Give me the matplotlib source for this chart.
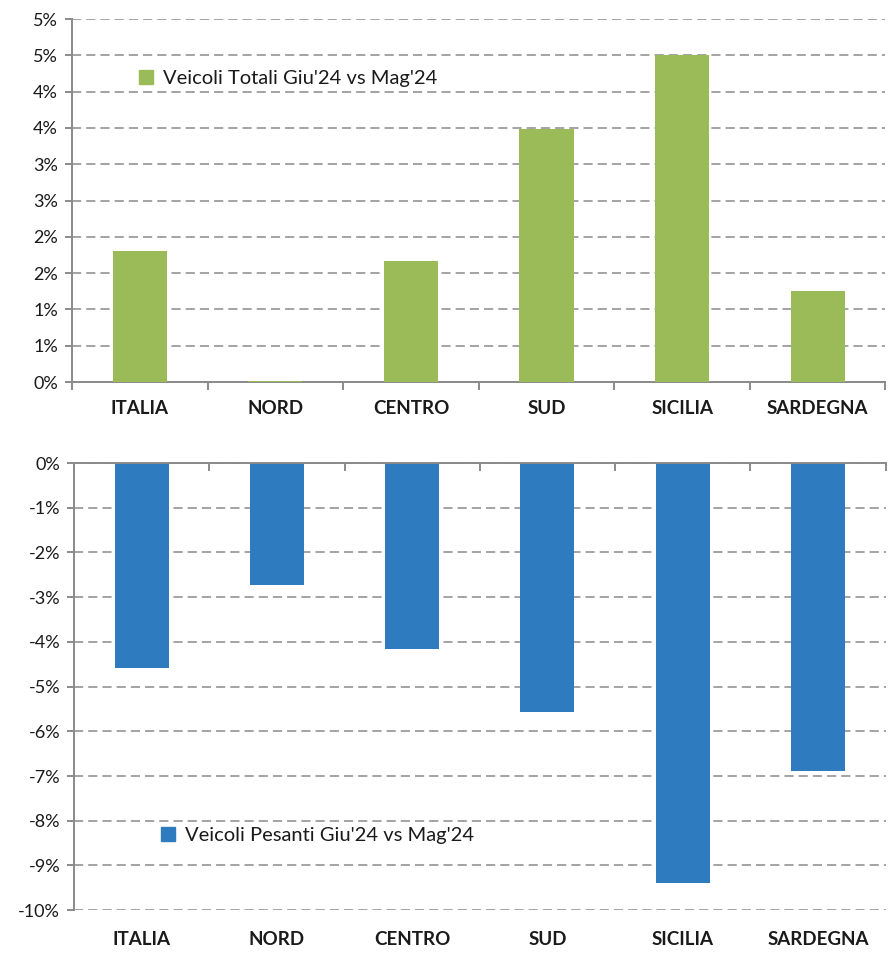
import math
import matplotlib
matplotlib.use("Agg")
import matplotlib.pyplot as plt
from matplotlib.ticker import FuncFormatter, MultipleLocator, FixedLocator
from matplotlib.patches import Patch

plt.rcParams['font.family'] = ['Lato', 'DejaVu Sans']

# dati
regioni = ["ITALIA", "NORD", "CENTRO", "SUD", "SICILIA", "SARDEGNA"]
totali = [1.81, 0.02, 1.67, 3.49, 4.51, 1.25]
pesanti = [-4.59, -2.72, -4.17, -5.57, -9.40, -6.88]
label_totali = "Veicoli Totali Giu'24 vs Mag'24"
label_pesanti = "Veicoli Pesanti Giu'24 vs Mag'24"

verde = "#9BBB59"
blu = "#2F7BC0"
grigio = "#8A8A8A"
testo = "#1A1A1A"


def perc(v, pos):
    # arrotondamento alla Excel (0.5 -> 1)
    r = math.floor(abs(v) + 0.5 + 1e-9)
    if v < 0 and r != 0:
        return f"-{r}%"
    return f"{r}%"


def stile_asse(ax):
    x = list(range(len(regioni)))
    ax.set_xlim(-0.5, len(regioni) - 0.5)
    ax.set_xticks(x)
    ax.set_xticklabels(regioni, fontsize=13.5, fontweight='bold', color=testo)
    ax.xaxis.set_minor_locator(FixedLocator([i - 0.5 for i in range(len(regioni) + 1)]))
    ax.tick_params(axis='x', which='major', length=0, pad=13)
    ax.tick_params(axis='y', which='major', length=5, width=1.4, color=grigio,
                   labelsize=13, labelcolor=testo, pad=5)
    ax.yaxis.set_major_formatter(FuncFormatter(perc))
    ax.spines['right'].set_visible(False)
    ax.spines['left'].set_color(grigio)
    ax.spines['left'].set_linewidth(1.4)
    ax.grid(axis='y', color=grigio, linestyle=(0, (6, 3.3)), linewidth=1.1)
    ax.set_axisbelow(True)


fig = plt.figure(figsize=(8.89, 9.56), dpi=100)

# grafico superiore
ax1 = fig.add_axes([0.081, 0.6004, 0.915, 0.3797])
ax1.bar(range(len(regioni)), totali, width=0.4, color=verde, zorder=3)
ax1.set_ylim(0, 5)
ax1.yaxis.set_major_locator(MultipleLocator(0.5))
stile_asse(ax1)
ax1.spines['top'].set_visible(False)
ax1.spines['bottom'].set_color(grigio)
ax1.spines['bottom'].set_linewidth(1.4)
ax1.tick_params(axis='x', which='minor', length=6, width=1.4, color=grigio, direction='out')
ax1.legend(handles=[Patch(color=verde, label=label_totali)], loc='center left',
           bbox_to_anchor=(0.06, 0.837), frameon=False, fontsize=14.5,
           labelcolor=testo, handlelength=0.7, handleheight=0.7, handletextpad=0.5)

# grafico inferiore
ax2 = fig.add_axes([0.0832, 0.048, 0.913, 0.4676])
ax2.bar(range(len(regioni)), pesanti, width=0.4, color=blu, zorder=3)
ax2.set_ylim(-10, 0)
ax2.yaxis.set_major_locator(MultipleLocator(1))
stile_asse(ax2)
ax2.spines['bottom'].set_visible(False)
ax2.spines['top'].set_color(grigio)
ax2.spines['top'].set_linewidth(1.4)
ax2.spines['top'].set_zorder(4)
ax2.tick_params(axis='x', which='minor', bottom=False, top=True, length=6, width=1.4,
                color=grigio, direction='in')
ax2.tick_params(axis='x', which='major', pad=15)
ax2.legend(handles=[Patch(color=blu, label=label_pesanti)], loc='center left',
           bbox_to_anchor=(0.085, 0.167), frameon=False, fontsize=14.5,
           labelcolor=testo, handlelength=0.7, handleheight=0.7, handletextpad=0.5)

fig.savefig("out.png", dpi=100)
